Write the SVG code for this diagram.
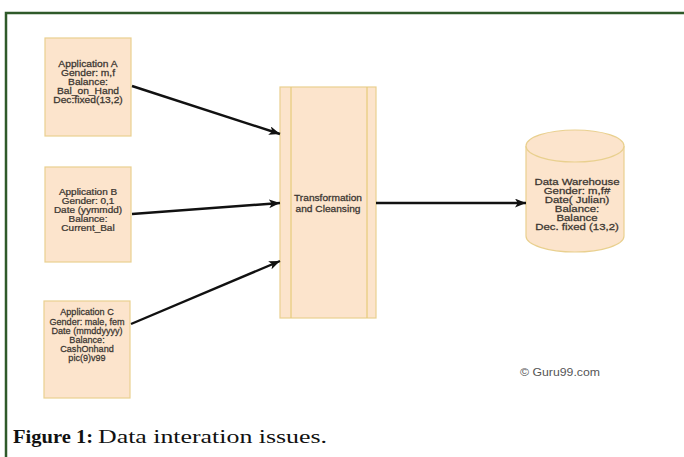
<svg xmlns="http://www.w3.org/2000/svg" width="684" height="457" viewBox="0 0 684 457">
  <style>
    .box { fill: #fce4cc; stroke: #e9d08f; stroke-width: 1.2; }
    .stripe { fill: none; stroke: #e6cc7a; stroke-width: 1.2; }
    .lbl { font-family: "Liberation Sans", Arial, sans-serif; font-size: 9px; fill: #3b3631; stroke: #3b3631; stroke-width: 0.25; text-anchor: middle; }
    .edge { fill: none; stroke: #111111; stroke-width: 2.4; }
    .mark { font-family: "Liberation Sans", Arial, sans-serif; font-size: 11px; fill: #555555; }
    .cap { font-family: "Liberation Serif", "Times New Roman", serif; font-size: 19px; fill: #111111; }
  </style>
  <defs>
    <marker id="arrow" viewBox="0 0 10 8" refX="10" refY="4" markerWidth="11" markerHeight="9" orient="auto" markerUnits="userSpaceOnUse">
      <path d="M0,0 L10,4 L0,8 L2.5,4 Z" fill="#111111"/>
    </marker>
  </defs>

  <rect width="684" height="457" fill="#ffffff"/>

  <!-- frame -->
  <path d="M6,457 V13 H684" fill="none" stroke="#2f5a2a" stroke-width="2.5"/>

  <!-- source applications -->
  <g id="appA">
    <rect class="box" x="45" y="38" width="86" height="98"/>
    <g transform="translate(88,0) scale(1.14,1)">
      <text class="lbl" x="0" y="67">Application A</text>
      <text class="lbl" x="0" y="76">Gender: m,f</text>
      <text class="lbl" x="0" y="85">Balance:</text>
      <text class="lbl" x="0" y="94">Bal_on_Hand</text>
      <text class="lbl" x="0" y="103">Dec:fixed(13,2)</text>
    </g>
  </g>

  <g id="appB">
    <rect class="box" x="45" y="167" width="86" height="95"/>
    <g transform="translate(88,0) scale(1.11,1)">
      <text class="lbl" x="0" y="195">Application B</text>
      <text class="lbl" x="0" y="204">Gender: 0,1</text>
      <text class="lbl" x="0" y="213">Date (yymmdd)</text>
      <text class="lbl" x="0" y="222">Balance:</text>
      <text class="lbl" x="0" y="231">Current_Bal</text>
    </g>
  </g>

  <g id="appC">
    <rect class="box" x="44" y="301" width="86" height="97"/>
    <g transform="translate(87,0) scale(1.01,1)">
      <text class="lbl" x="0" y="315">Application C</text>
      <text class="lbl" x="0" y="325">Gender: male, fem</text>
      <text class="lbl" x="0" y="334">Date (mmddyyyy)</text>
      <text class="lbl" x="0" y="343">Balance:</text>
      <text class="lbl" x="0" y="352">CashOnhand</text>
      <text class="lbl" x="0" y="361">pic(9)v99</text>
    </g>
  </g>

  <!-- transformation process -->
  <g id="transform">
    <rect class="box" x="280" y="87" width="96" height="231"/>
    <line class="stripe" x1="291" y1="87" x2="291" y2="318"/>
    <line class="stripe" x1="367" y1="87" x2="367" y2="318"/>
    <g transform="translate(328,0) scale(1.13,1)">
      <text class="lbl" x="0" y="201">Transformation</text>
      <text class="lbl" x="0" y="212">and Cleansing</text>
    </g>
  </g>

  <!-- target warehouse -->
  <g id="warehouse">
    <path class="box" d="M526,146 A49,16 0 0 1 624,146 V236 A49,16 0 0 1 526,236 Z"/>
    <path class="box" d="M526,146 A49,16 0 0 0 624,146" fill="none"/>
    <g transform="translate(577,0) scale(1.27,1)">
      <text class="lbl" x="0" y="185">Data Warehouse</text>
      <text class="lbl" x="0" y="194">Gender: m,f#</text>
      <text class="lbl" x="0" y="203">Date( Julian)</text>
      <text class="lbl" x="0" y="212">Balance:</text>
      <text class="lbl" x="0" y="221">Balance</text>
      <text class="lbl" x="0" y="230">Dec. fixed (13,2)</text>
    </g>
  </g>

  <!-- data flows -->
  <g id="connectors">
    <path class="edge" d="M132,86 L280,134" marker-end="url(#arrow)"/>
    <path class="edge" d="M132,214 L280,203" marker-end="url(#arrow)"/>
    <path class="edge" d="M131,324 L280,261" marker-end="url(#arrow)"/>
    <path class="edge" d="M376,203 L526,203" marker-end="url(#arrow)"/>
  </g>

  <text class="mark" x="520" y="376" textLength="80" lengthAdjust="spacingAndGlyphs">© Guru99.com</text>

  <text class="cap" x="13" y="443" font-weight="bold" textLength="80" lengthAdjust="spacingAndGlyphs">Figure 1:</text>
  <text class="cap" x="98" y="443" textLength="229" lengthAdjust="spacingAndGlyphs">Data interation issues.</text>
</svg>
